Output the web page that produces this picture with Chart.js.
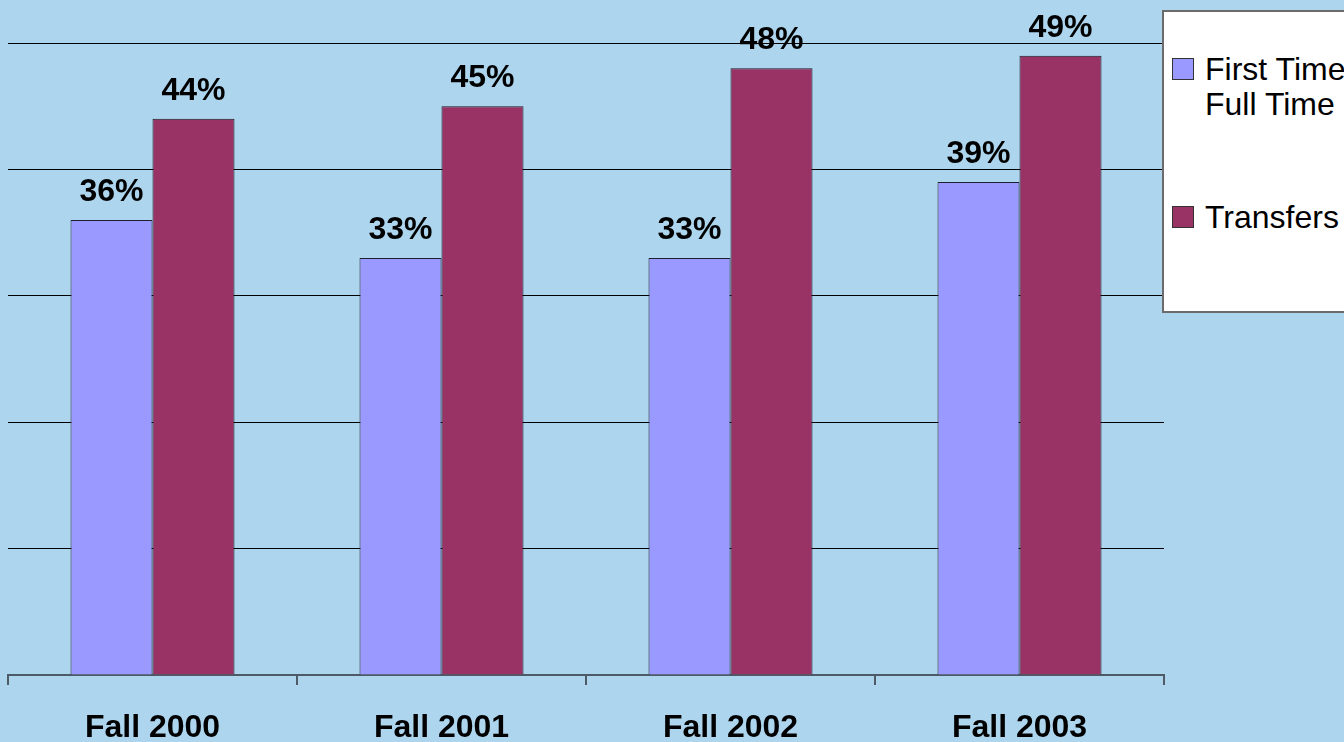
<!DOCTYPE html>
<html>
<head>
<meta charset="utf-8">
<script src="https://cdn.jsdelivr.net/npm/chart.js@4/dist/chart.umd.min.js"></script>
<style>
  html, body { margin: 0; padding: 0; overflow: hidden; background: #add5ed; }
  #wrap { position: relative; width: 1344px; height: 742px; }
  #legend {
    position: absolute; left: 1162px; top: 10px; width: 260px; height: 299px;
    background: #ffffff; border: 2px solid #6b6b6b;
    font-family: "Liberation Sans", Arial, sans-serif; font-size: 32px; color: #000;
  }
  .item { position: absolute; left: 0; white-space: nowrap; }
  .swatch { position: absolute; left: 8px; width: 20px; height: 20px; border: 1px solid #333; }
  .text { position: absolute; left: 41px; line-height: 35px; }
</style>
</head>
<body>
<div id="wrap">
  <canvas id="chart" width="1344" height="742"></canvas>
  <div id="legend"></div>
</div>
<script>
// Chart data
const categories = ['Fall 2000', 'Fall 2001', 'Fall 2002', 'Fall 2003'];
const firstTimeValues = [36, 33, 33, 39];
const transferValues = [44, 45, 48, 49];
const firstTimeLabel = ['First Time', 'Full Time'];
const transferLabel = ['Transfers'];
const yMax = 50;
const yStep = 10;

const fontFamily = '"Liberation Sans", Arial, sans-serif';

// draws the % labels above each bar
const valueLabels = {
  id: 'valueLabels',
  afterDatasetsDraw(chart) {
    const ctx = chart.ctx;
    ctx.save();
    ctx.font = 'bold 32px ' + fontFamily;
    ctx.fillStyle = '#000';
    ctx.textAlign = 'center';
    ctx.textBaseline = 'alphabetic';
    chart.data.datasets.forEach((ds, i) => {
      chart.getDatasetMeta(i).data.forEach((bar, j) => {
        ctx.fillText(ds.data[j] + '%', bar.x, bar.y - 19);
      });
    });
    ctx.restore();
  }
};

const chart = new Chart(document.getElementById('chart'), {
  type: 'bar',
  data: {
    labels: categories,
    datasets: [{
      label: firstTimeLabel,
      data: firstTimeValues,
      backgroundColor: '#9999ff',
      borderColor: '#1e2030',
      borderWidth: 1,
      categoryPercentage: 0.5675,
      barPercentage: 1.0,
    }, {
      label: transferLabel,
      data: transferValues,
      backgroundColor: '#993366',
      borderColor: '#1a1a22',
      borderWidth: 1,
      categoryPercentage: 0.5675,
      barPercentage: 1.0,
    }]
  },
  options: {
    responsive: false,
    animation: false,
    layout: {
      padding: { left: 8, right: 180, top: 43, bottom: 0 }
    },
    plugins: {
      legend: { display: false },
      tooltip: { enabled: false },
    },
    scales: {
      x: {
        border: { display: true, color: '#4d5b66', width: 2 },
        grid: {
          drawOnChartArea: false,
          drawTicks: true,
          tickLength: 10,
          color: '#4d5b66',
          lineWidth: 2,
        },
        ticks: {
          color: '#000',
          padding: 24,
          maxRotation: 0,
          font: { family: fontFamily, size: 32, weight: 'bold' },
        },
        afterFit(scale) { scale.height = 67; },
      },
      y: {
        min: 0,
        max: yMax,
        border: { display: false },
        grid: { color: '#000', lineWidth: 1, drawTicks: false },
        ticks: { display: false, stepSize: yStep },
        afterFit(scale) { scale.width = 0; },
      },
    },
  },
  plugins: [valueLabels],
});

// HTML legend built from the datasets
const legendEl = document.getElementById('legend');
const legendTops = [40, 188];
chart.data.datasets.forEach((ds, i) => {
  const item = document.createElement('div');
  item.className = 'item';
  item.style.top = legendTops[i] + 'px';
  const sw = document.createElement('div');
  sw.className = 'swatch';
  sw.style.top = '6px';
  sw.style.background = ds.backgroundColor;
  const txt = document.createElement('div');
  txt.className = 'text';
  txt.innerHTML = ds.label.join('<br>');
  item.appendChild(sw);
  item.appendChild(txt);
  legendEl.appendChild(item);
});
</script>
</body>
</html>
